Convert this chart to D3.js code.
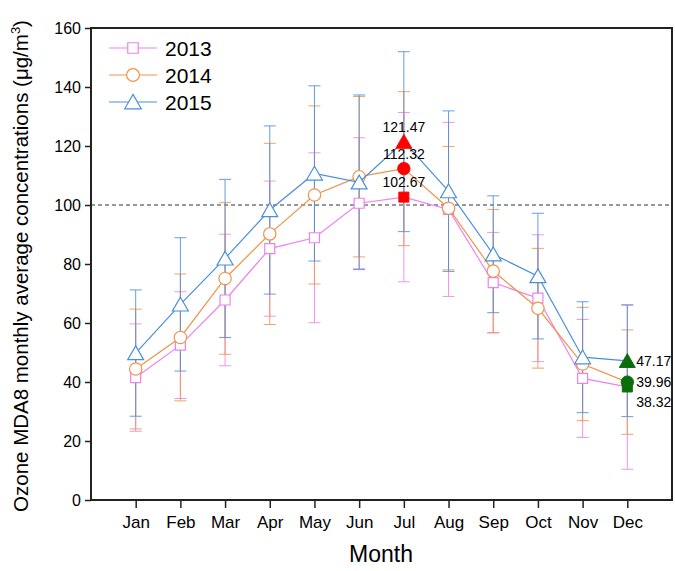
<!DOCTYPE html>
<html><head><meta charset="utf-8">
<script src="https://cdn.jsdelivr.net/npm/d3@7"></script>
<style>body{margin:0;background:#fff}svg{display:block}text{font-family:Arial,"Liberation Sans",sans-serif}</style>
</head><body><svg id="c" width="675" height="571"></svg>
<script>
const months = ["Jan","Feb","Mar","Apr","May","Jun","Jul","Aug","Sep","Oct","Nov","Dec"];
const years = ["2013","2014","2015"];
const mean2013 = [41.5,52.5,67.8,85.2,88.9,100.6,102.67,98.5,73.7,68.4,41.2,38.32];
const sd2013   = [18.2,18.1,22.3,22.9,28.8,22.2,28.7,29.5,17.0,21.5,20.0,27.9];
const mean2014 = [44.4,55.1,75.1,90.2,103.4,109.6,112.32,98.9,77.6,65.0,46.1,39.96];
const sd2014   = [20.3,21.5,25.7,30.7,30.2,27.2,26.1,20.9,20.9,20.3,19.2,17.7];
const mean2015 = [49.8,66.3,81.9,98.3,110.7,107.7,121.47,104.7,83.3,75.9,48.4,47.17];
const sd2015   = [21.4,22.6,26.8,28.5,29.7,29.6,30.5,27.2,19.8,21.3,18.8,18.9];
const yTicks = [0,20,40,60,80,100,120,140,160];
const refLine = 100;
const highlightMonths = ["Jul","Dec"];
const highlightColors = ["#ff0000","#0a6e0a"];

const series = [
  {name:years[0], mean:mean2013, sd:sd2013, color:"#ee82ee", shape:"square"},
  {name:years[1], mean:mean2014, sd:sd2014, color:"#f0944a", shape:"circle"},
  {name:years[2], mean:mean2015, sd:sd2015, color:"#4a8fd9", shape:"triangle"}
];

const svg = d3.select("#c");
const L=91, R=672, T=28, B=500;
const x = d3.scalePoint().domain(months).range([L,R]).padding(1);
const y = d3.scaleLinear().domain([0,160]).range([B,T]);

function symPath(shape, size){
  const t = shape==="square"?d3.symbolSquare:shape==="circle"?d3.symbolCircle:d3.symbolTriangle;
  return d3.symbol().type(t).size(size)();
}
const sizes = {square:100, circle:120, triangle:110};

// reference dashed line
svg.append("line").attr("x1",L).attr("x2",R).attr("y1",y(refLine)).attr("y2",y(refLine))
  .attr("stroke","#333").attr("stroke-width",1).attr("stroke-dasharray","4,3");

// error bars
series.forEach(s=>{
  const g = svg.append("g").attr("stroke",s.color).attr("stroke-width",1).attr("opacity",0.85);
  months.forEach((m,i)=>{
    const cx=x(m), lo=y(s.mean[i]-s.sd[i]), hi=y(s.mean[i]+s.sd[i]);
    g.append("line").attr("x1",cx).attr("x2",cx).attr("y1",lo).attr("y2",hi);
    g.append("line").attr("x1",cx-6).attr("x2",cx+6).attr("y1",lo).attr("y2",lo);
    g.append("line").attr("x1",cx-6).attr("x2",cx+6).attr("y1",hi).attr("y2",hi);
  });
});

// lines and markers
series.forEach(s=>{
  const line = d3.line().x((d,i)=>x(months[i])).y(d=>y(d));
  svg.append("path").datum(s.mean).attr("d",line).attr("fill","none").attr("stroke",s.color).attr("stroke-width",1.2);
  months.forEach((m,i)=>{
    const hIdx = highlightMonths.indexOf(m);
    const off = s.shape==="triangle"?2:0;
    const p = svg.append("path").attr("d",symPath(s.shape,sizes[s.shape]))
      .attr("transform",`translate(${x(m)},${y(s.mean[i])+off})`);
    if(hIdx>=0){ p.attr("fill",highlightColors[hIdx]).attr("stroke",highlightColors[hIdx]); }
    else { p.attr("fill","#fff").attr("stroke",s.color).attr("stroke-width",1.2); }
  });
});

// value labels
const jul = months.indexOf("Jul"), dec = months.indexOf("Dec");
series.forEach(s=>{
  svg.append("text").attr("x",x("Jul")).attr("y",y(s.mean[jul])-10).attr("text-anchor","middle")
    .attr("font-size",14).text(s.mean[jul].toFixed(2));
});
const decOff = {"2013":15,"2014":0,"2015":0};
series.forEach(s=>{
  svg.append("text").attr("x",x("Dec")+9).attr("y",y(s.mean[dec])+5+decOff[s.name])
    .attr("font-size",14).text(s.mean[dec].toFixed(2));
});

// frame
svg.append("rect").attr("x",L).attr("y",T).attr("width",R-L).attr("height",B-T)
  .attr("fill","none").attr("stroke","#222").attr("stroke-width",2);

// axes
const ya = svg.append("g").attr("transform",`translate(${L},0)`)
  .call(d3.axisLeft(y).tickValues(yTicks).tickSize(6).tickPadding(4));
const xa = svg.append("g").attr("transform",`translate(0,${B})`)
  .call(d3.axisBottom(x).tickSize(8).tickPadding(8));
[ya,xa].forEach(a=>{
  a.select(".domain").remove();
  a.selectAll(".tick line").attr("stroke","#222").attr("stroke-width",1.5);
  a.selectAll("text").attr("fill","#000").style("font-family","Arial, 'Liberation Sans', sans-serif");
});
ya.selectAll("text").attr("font-size",16);
xa.selectAll("text").attr("font-size",17);

// axis titles
svg.append("text").attr("x",381).attr("y",562).attr("text-anchor","middle").attr("font-size",23).text("Month");
const yt = svg.append("text").attr("transform",`translate(28,${(T+B)/2+2}) rotate(-90)`).attr("text-anchor","middle").attr("font-size",20.5);
yt.append("tspan").text("Ozone MDA8 monthly average concentrations (μg/m");
yt.append("tspan").attr("font-size",13).attr("dy",-8).text("3");
yt.append("tspan").attr("dy",8).text(")");

// legend
series.forEach((s,i)=>{
  const ly = 48 + i*27;
  svg.append("line").attr("x1",109).attr("x2",157).attr("y1",ly).attr("y2",ly).attr("stroke",s.color).attr("stroke-width",1.2);
  svg.append("path").attr("d",symPath(s.shape,sizes[s.shape]+10))
    .attr("transform",`translate(133,${ly+(s.shape==="triangle"?2:0)})`)
    .attr("fill","#fff").attr("stroke",s.color).attr("stroke-width",1.2);
  svg.append("text").attr("x",165).attr("y",ly+8).attr("font-size",21).text(s.name);
});
</script></body></html>
